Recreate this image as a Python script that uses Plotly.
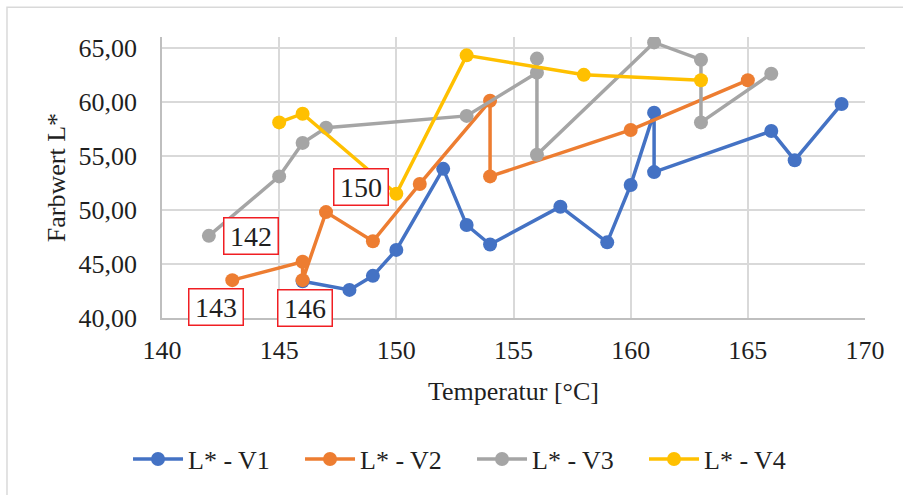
import plotly.graph_objects as go

# Farbwert L* über der Temperatur, vier Versuchsreihen
temp_v1 = [146, 148, 149, 150, 152, 153, 154, 157, 159, 160, 161, 161, 166, 167, 169]
l_v1 = [43.4, 42.6, 43.9, 46.3, 53.8, 48.6, 46.8, 50.3, 47.0, 52.3, 59.0, 53.5, 57.3, 54.6, 59.8]

temp_v2 = [143, 146, 146, 147, 149, 151, 154, 154, 160, 165]
l_v2 = [43.5, 45.2, 43.5, 49.8, 47.1, 52.4, 60.1, 53.1, 57.4, 62.0]

temp_v3 = [142, 145, 146, 147, 153, 156, 156, 156, 161, 163, 163, 166]
l_v3 = [47.6, 53.1, 56.2, 57.6, 58.7, 62.7, 64.0, 55.1, 65.5, 63.9, 58.1, 62.6]

temp_v4 = [145, 146, 150, 153, 158, 163]
l_v4 = [58.1, 58.9, 51.5, 64.3, 62.5, 62.0]

series_names = ["L* - V1", "L* - V2", "L* - V3", "L* - V4"]
series_colors = ["#4472C4", "#ED7D31", "#A5A5A5", "#FFC000"]

# Starttemperaturen als Beschriftung (Text, Temperatur, Farbwert der Box)
start_labels = ["142", "143", "146", "150"]
start_label_x = [143.8, 142.3, 146.1, 148.5]
start_label_y = [47.6, 41.0, 40.9, 52.1]

FONT = "Liberation Serif"
TEXT_COLOR = "#1f1f1f"
GRID = "#d9d9d9"

fig = go.Figure()
for xs, ys, name, color in zip(
    [temp_v1, temp_v2, temp_v3, temp_v4],
    [l_v1, l_v2, l_v3, l_v4],
    series_names,
    series_colors,
):
    fig.add_trace(
        go.Scatter(
            x=xs,
            y=ys,
            name=name,
            mode="lines+markers",
            line=dict(color=color, width=3.5),
            marker=dict(color=color, size=14, line=dict(width=0)),
            hoverinfo="skip",
        )
    )

for txt, ax, ay in zip(start_labels, start_label_x, start_label_y):
    fig.add_annotation(
        x=ax,
        y=ay,
        xref="x",
        yref="y",
        text=txt,
        showarrow=False,
        font=dict(family=FONT, size=28, color=TEXT_COLOR),
        bgcolor="white",
        bordercolor="#f01e23",
        borderwidth=1.5,
        borderpad=1,
        width=51,
        height=33,
    )

# Rahmen um das gesamte Diagramm
fig.add_shape(
    type="rect",
    xref="paper",
    yref="paper",
    x0=-0.2205,
    x1=1.06,
    y0=-0.64,
    y1=1.106,
    line=dict(color=GRID, width=1.5),
    fillcolor="rgba(0,0,0,0)",
    layer="below",
)

fig.update_layout(
    width=903,
    height=495,
    margin=dict(l=162, r=38, t=37, b=175),
    paper_bgcolor="white",
    plot_bgcolor="white",
    font=dict(family=FONT, size=26, color=TEXT_COLOR),
    showlegend=True,
    legend=dict(
        orientation="h",
        x=0.441,
        xanchor="center",
        y=-0.502,
        yanchor="middle",
        font=dict(family=FONT, size=26, color=TEXT_COLOR),
        itemwidth=50,
        entrywidth=107,
        bgcolor="rgba(0,0,0,0)",
    ),
    xaxis=dict(
        range=[140, 170],
        tickvals=[140, 145, 150, 155, 160, 165, 170],
        ticktext=["140", "145", "150", "155", "160", "165", "170"],
        showgrid=True,
        gridcolor=GRID,
        gridwidth=1.5,
        showline=True,
        linecolor="#bfbfbf",
        linewidth=1.5,
        zeroline=False,
        ticks="",
        ticklabelstandoff=8,
        title=dict(text="Temperatur [°C]", standoff=18, font=dict(family=FONT, size=26, color=TEXT_COLOR)),
    ),
    yaxis=dict(
        range=[40, 66],
        tickvals=[40, 45, 50, 55, 60, 65],
        ticktext=["40,00", "45,00", "50,00", "55,00", "60,00", "65,00"],
        showgrid=True,
        gridcolor=GRID,
        gridwidth=1.5,
        showline=True,
        linecolor="#bfbfbf",
        linewidth=1.5,
        zeroline=False,
        ticks="",
        ticklabelstandoff=18,
        title=dict(text="Farbwert L*", standoff=5, font=dict(family=FONT, size=26, color=TEXT_COLOR)),
    ),
)

fig.write_html("out.html", config={"displayModeBar": False})
